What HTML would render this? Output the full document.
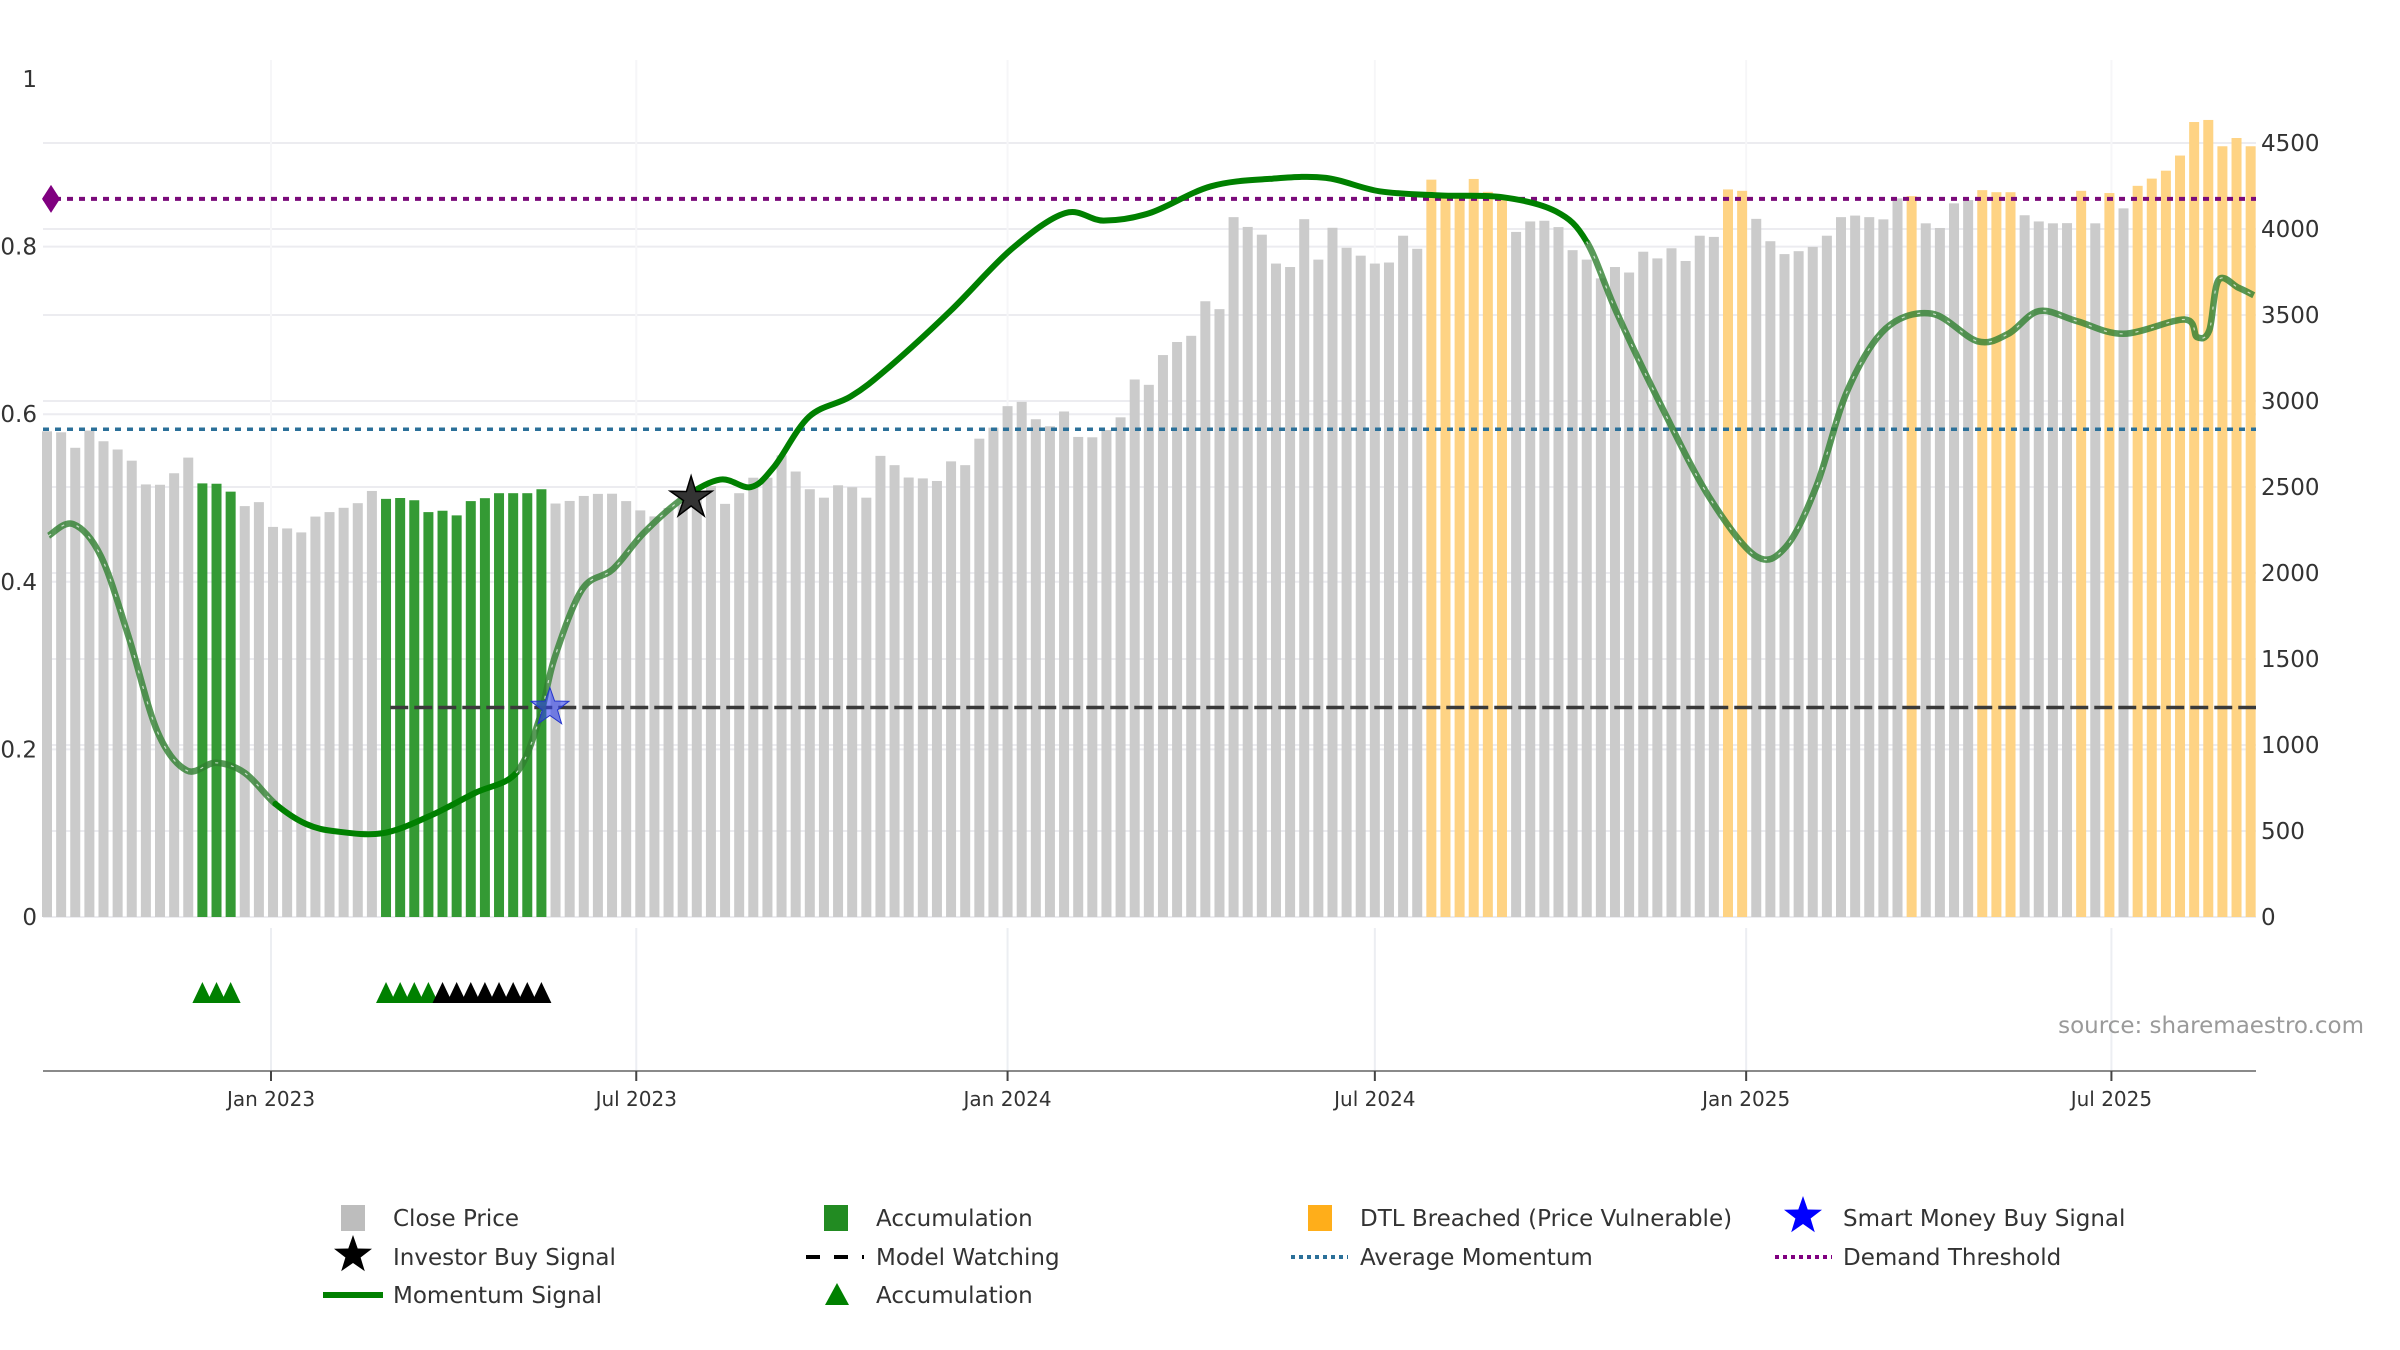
<!DOCTYPE html>
<html><head><meta charset="utf-8">
<style>
html,body{margin:0;padding:0;background:#fff;}
svg{display:block;font-family:"DejaVu Sans","Liberation Sans",sans-serif;}
</style></head>
<body>
<svg id="chart" width="2400" height="1350" viewBox="0 0 2400 1350" xmlns="http://www.w3.org/2000/svg">
<g id="grid"></g>
<g id="bars"></g>
<g id="lines"></g>
<g id="mom"></g>
<g id="marks"></g>
<g id="axes"></g>
<text x="2364" y="1033" text-anchor="end" font-size="23" fill="#9a9a9a">source: sharemaestro.com</text>
<g id="legend"></g>
</svg>
<script>
// ---- data ----
const startDay = -111; // days from 2023-01-01 of first weekly bar
const closes = [2824,2818,2728,2828,2766,2718,2653,2515,2513,2580,2671,2521,2519,2473,2389,2412,2268,2259,2236,2328,2354,2379,2406,2477,2431,2436,2423,
2354,2362,2335,2418,2435,2464,2464,2464,2487,2404,2419,2448,2460,2461,2418,2364,2329,2378,2397,2441,2506,2402,2464,2554,2554,2684,2590,
2487,2438,2510,2499,2438,2681,2627,2555,2550,2535,2649,2627,2781,2845,2970,2995,2894,2853,2939,2791,2789,2831,2905,3125,3094,3267,3343,
3379,3580,3534,4069,4012,3967,3799,3779,4057,3822,4007,3891,3845,3799,3805,3961,3885,4287,4207,4207,4291,4216,4197,3983,4044,4048,
4011,3877,3822,3713,3779,3747,3868,3829,3888,3814,3961,3954,4230,4222,4059,3929,3854,3871,3896,3961,4069,4078,4069,4056,4178,4191,4033,
4006,4149,4168,4226,4214,4214,4080,4044,4033,4034,4222,4033,4209,4120,4251,4293,4339,4427,4622,4634,4481,4529,4481];
const accumBars = [11,12,13,24,25,26,27,28,29,30,31,32,33,34,35];
const dtlBars = [98,99,100,101,102,103,119,120,132,137,138,139,144,146,148,149,150,151,152,153,154,155,156];
const momWeek = [0.11,1.84,3.80,5.75,7.82,9.88,11.94,14.00,16.17,18.35,20.52,23.77,27.03,30.29,33.22,34.85,35.93,37.89,40.06,42.23,45.05,47.66,49.83,51.46,53.95,56.88,59.60,63.94,68.28,72.08,74.80,78.05,82.40,86.74,90.54,94.34,98.68,103.02,106.82,108.99,111.16,114.42,117.68,120.94,123.11,125.28,127.45,130.16,133.42,136.67,138.84,141.02,143.73,146.99,151.33,152.20,153.07,153.72,155.13,156.22];
const momValue = [0.455,0.469,0.431,0.336,0.221,0.175,0.184,0.172,0.135,0.111,0.102,0.100,0.120,0.148,0.172,0.236,0.309,0.391,0.415,0.458,0.500,0.522,0.513,0.537,0.597,0.621,0.656,0.723,0.797,0.840,0.831,0.840,0.872,0.881,0.882,0.866,0.861,0.859,0.842,0.806,0.720,0.605,0.501,0.431,0.442,0.515,0.628,0.702,0.720,0.687,0.696,0.723,0.711,0.696,0.713,0.692,0.700,0.760,0.751,0.742];
const solidRanges = [[16,34],[45,109]];
const accumTriGreen = [11,12,13,24,25,26,27];
const accumTriBlack = [28,29,30,31,32,33,34,35];
const demandThreshold = 0.857;
const avgMomentum = 0.582;
const modelWatching = 0.25;
const modelWatchStartWeek = 24.3;
const investorBuy = {week:45.6, value:0.5};
const smartMoneyBuy = {week:35.6, value:0.25};
const leftTicks = [0,0.2,0.4,0.6,0.8,1];
const leftTickLabels = ["0","0.2","0.4","0.6","0.8","1"];
const rightTicks = [0,500,1000,1500,2000,2500,3000,3500,4000,4500];
const dateTickDays = [0,181,365,547,731,912];
const dateTickLabels = ["Jan 2023","Jul 2023","Jan 2024","Jul 2024","Jan 2025","Jul 2025"];

// ---- scales ----
const PL=43, PR=2256, Y0=917;
function xDay(d){return 271 + d*2.018;}
function xWeek(w){return xDay(startDay + 7*w);}
function yPrice(p){return Y0 - p*0.172;}
function yMom(v){return Y0 - v*838;}
const NS="http://www.w3.org/2000/svg";
function mk(tag, attrs, parent){const e=document.createElementNS(NS,tag);for(const k in attrs)e.setAttribute(k,attrs[k]);parent.appendChild(e);return e;}
const G=id=>document.getElementById(id);

// grid
rightTicks.forEach(t=>{const l=mk('line',{x1:PL,x2:PR,y1:yPrice(t),y2:yPrice(t),stroke:'#ececf0','stroke-width':2},G('grid'));

});
leftTicks.forEach(t=>{if(t===0||t===1)return;const l=mk('line',{x1:PL,x2:PR,y1:yMom(t),y2:yMom(t),stroke:'#ececf0','stroke-width':2},G('grid'));

});
dateTickDays.forEach(d=>{const l=mk('line',{x1:xDay(d),x2:xDay(d),y1:928,y2:1071,stroke:'#eceef2','stroke-width':2},G('grid'));


const l2=mk('line',{x1:xDay(d),x2:xDay(d),y1:60,y2:917,stroke:'#f6f6f8','stroke-width':2},G('grid'));

});

// bars
closes.forEach((c,i)=>{
  let col='#cbcbcb', nm='close-price-bar';
  if(accumBars.includes(i)){col='#349a34';nm='accumulation-bar';}
  else if(dtlBars.includes(i)){col='#fed384';nm='dtl-breached-bar';}
  const x=xWeek(i);
  const r=mk('rect',{x:x-5,y:yPrice(c),width:10,height:Y0-yPrice(c),fill:col},G('bars'));
  
  
});

// reference lines
let l1=mk('line',{x1:PL,x2:PR,y1:yMom(demandThreshold),y2:yMom(demandThreshold),stroke:'#7a0a7a','stroke-width':4,'stroke-dasharray':'6 6'},G('lines'));


let l2=mk('line',{x1:PL,x2:PR,y1:yMom(avgMomentum),y2:yMom(avgMomentum),stroke:'#2b7099','stroke-width':3.5,'stroke-dasharray':'6 6'},G('lines'));


let l3=mk('line',{x1:xWeek(modelWatchStartWeek),x2:PR,y1:yMom(modelWatching),y2:yMom(modelWatching),stroke:'#3a3a3a','stroke-width':3.5,'stroke-dasharray':'18 6'},G('lines'));


let dm=mk('polygon',{points:`${PL-1},${yMom(demandThreshold)} ${PL+8},${yMom(demandThreshold)-14} ${PL+17},${yMom(demandThreshold)} ${PL+8},${yMom(demandThreshold)+14}`,fill:'#800080'},G('lines'));



// momentum line (smoothed, Catmull-Rom)
const P = momWeek.map((w,i)=>[xWeek(w),yMom(momValue[i])]);
function inSolid(w){return solidRanges.some(r=>w>=r[0]&&w<=r[1]);}
function segPath(i){
  const p0=P[Math.max(0,i-1)],p1=P[i],p2=P[i+1],p3=P[Math.min(P.length-1,i+2)];
  const c1=[p1[0]+(p2[0]-p0[0])/6,p1[1]+(p2[1]-p0[1])/6];
  const c2=[p2[0]-(p3[0]-p1[0])/6,p2[1]-(p3[1]-p1[1])/6];
  return ` C${c1[0].toFixed(1)},${c1[1].toFixed(1)} ${c2[0].toFixed(1)},${c2[1].toFixed(1)} ${p2[0].toFixed(1)},${p2[1].toFixed(1)}`;
}
let groups=[];
for(let i=0;i<P.length-1;i++){
  const s=inSolid((momWeek[i]+momWeek[i+1])/2);
  if(!groups.length||groups[groups.length-1].s!==s) groups.push({s:s,d:`M${P[i][0].toFixed(1)},${P[i][1].toFixed(1)}`});
  groups[groups.length-1].d+=segPath(i);
}
groups.forEach(g=>{
  if(g.s){
    const p=mk('path',{d:g.d,fill:'none',stroke:'#008000','stroke-width':6,'stroke-linejoin':'round','stroke-linecap':'round'},G('mom'));
    
    
  } else {
    const p=mk('path',{d:g.d,fill:'none',stroke:'#2f7f2f','stroke-opacity':0.8,'stroke-width':6.5,'stroke-linejoin':'round'},G('mom'));
    
    
    const q=mk('path',{d:g.d,fill:'none',stroke:'#ffffff','stroke-opacity':0.7,'stroke-width':1.2,'stroke-dasharray':'3 13'},G('mom'));
    
    
  }
});

// stars
function starPts(cx,cy,R,r){let s=[];for(let k=0;k<10;k++){const a=-Math.PI/2+k*Math.PI/5;const rr=k%2?r:R;s.push((cx+rr*Math.cos(a)).toFixed(1)+','+(cy+rr*Math.sin(a)).toFixed(1));}return s.join(' ');}
let st1=mk('polygon',{points:starPts(xWeek(smartMoneyBuy.week),yMom(smartMoneyBuy.value),20,8),fill:'#3344ee','fill-opacity':0.6,stroke:'#2233cc','stroke-width':1},G('marks'));


let st2=mk('polygon',{points:starPts(xWeek(investorBuy.week),yMom(investorBuy.value),22,8),fill:'#333',stroke:'#000','stroke-width':1.5},G('marks'));


// triangles
function tri(w,col){const x=xWeek(w);const t=mk('polygon',{points:`${x-10},1003 ${x},982 ${x+10},1003`,fill:col},G('marks'));return t;}
accumTriGreen.forEach(w=>{const t=tri(w,'#008000');

});
accumTriBlack.forEach(w=>{const t=tri(w,'#000');

});

// axes
leftTicks.forEach((t,i)=>{const tx=mk('text',{x:37,y:yMom(t)+8,'text-anchor':'end','font-size':23,fill:'#333'},G('axes'));tx.textContent=leftTickLabels[i];

});
rightTicks.forEach(t=>{const tx=mk('text',{x:2261,y:yPrice(t)+8,'font-size':23,fill:'#333'},G('axes'));tx.textContent=String(t);

});
let ax=mk('line',{x1:PL,x2:PR,y1:1071,y2:1071,stroke:'#8a8a8a','stroke-width':2},G('axes'));


dateTickDays.forEach((d,i)=>{
  const tk=mk('line',{x1:xDay(d),x2:xDay(d),y1:1071,y2:1081,stroke:'#444','stroke-width':2},G('axes'));
  
  
  const tx=mk('text',{x:xDay(d),y:1106,'text-anchor':'middle','font-size':20,fill:'#333'},G('axes'));tx.textContent=dateTickLabels[i];
  
  
});

// legend
const LG=G('legend');
function ltext(x,y,s,nm){const t=mk('text',{x:x,y:y+8,'font-size':23,fill:'#333'},LG);t.textContent=s;

}
const r1=1218,r2=1257,r3=1295;
let e;
e=mk('rect',{x:341,y:r1-13,width:24,height:26,fill:'#bdbdbd'},LG);


ltext(393,r1,'Close Price','legend-close-price');
e=mk('rect',{x:824,y:r1-13,width:24,height:26,fill:'#228b22'},LG);


ltext(876,r1,'Accumulation','legend-accumulation-bar');
e=mk('rect',{x:1308,y:r1-13,width:24,height:26,fill:'#ffae1a'},LG);


ltext(1360,r1,'DTL Breached (Price Vulnerable)','legend-dtl-breached');
e=mk('polygon',{points:starPts(1803,r1-2,20,8),fill:'#0000ff'},LG);


ltext(1843,r1,'Smart Money Buy Signal','legend-smart-money');
e=mk('polygon',{points:starPts(353,r2-2,20,8),fill:'#000'},LG);


ltext(393,r2,'Investor Buy Signal','legend-investor-buy');
e=mk('line',{x1:806,x2:864,y1:r2,y2:r2,stroke:'#000','stroke-width':4,'stroke-dasharray':'14 14'},LG);


ltext(876,r2,'Model Watching','legend-model-watching');
e=mk('line',{x1:1291,x2:1348,y1:r2,y2:r2,stroke:'#2b7099','stroke-width':4,'stroke-dasharray':'4 4'},LG);


ltext(1360,r2,'Average Momentum','legend-average-momentum');
e=mk('line',{x1:1775,x2:1832,y1:r2,y2:r2,stroke:'#800080','stroke-width':4,'stroke-dasharray':'4 4'},LG);


ltext(1843,r2,'Demand Threshold','legend-demand-threshold');
e=mk('line',{x1:323,x2:383,y1:r3,y2:r3,stroke:'#008000','stroke-width':6},LG);


ltext(393,r3,'Momentum Signal','legend-momentum-signal');
e=mk('polygon',{points:`825,${r3+10} 837,${r3-12} 849,${r3+10}`,fill:'#008000'},LG);


ltext(876,r3,'Accumulation','legend-accumulation-marker');
</script>
</body></html>
